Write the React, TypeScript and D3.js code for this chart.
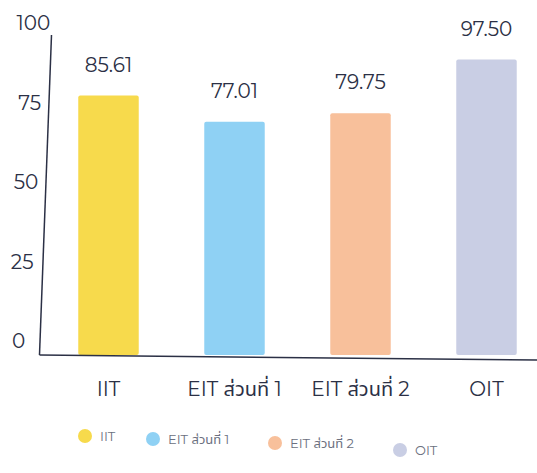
import { useRef, useEffect } from 'react';
import * as d3 from 'd3';

const categories = ['IIT', 'EIT ส่วนที่ 1', 'EIT ส่วนที่ 2', 'OIT'];
const values = [85.61, 77.01, 79.75, 97.5];
const valueLabels = ['85.61', '77.01', '79.75', '97.50'];
const colors = ['#f7da4c', '#8fd1f4', '#f8c09b', '#c9cee4'];
const yTicks = [0, 25, 50, 75, 100];

const W = 537;
const H = 473;
const FONT = "'Montserrat', 'Noto Sans', 'Noto Sans Thai', 'Open Sans', sans-serif";

export default function App() {
  const ref = useRef<SVGSVGElement>(null);

  useEffect(() => {
    if (!ref.current) return;
    const svg = d3.select(ref.current);
    svg.selectAll('*').remove();

    const margin = { left: 45.5, top: 52, bottom: 355 };
    const x = d3
      .scaleBand<string>()
      .domain(categories)
      .range([margin.left, margin.left + 504])
      .paddingInner(0.52)
      .paddingOuter(0.26);
    const y = d3.scaleLinear().domain([0, 100]).range([margin.bottom, margin.top]);

    // the photographed axis leans a little: top end sits right of the bottom end
    const axisTop = 35;
    const axisX = (py: number) => margin.left + 6 - (12 * (py - axisTop)) / (y(0) - axisTop);

    // bars
    svg
      .append('g')
      .selectAll('rect')
      .data(categories)
      .join('rect')
      .attr('x', (d) => x(d)!)
      .attr('y', (_, i) => y(values[i]))
      .attr('width', x.bandwidth())
      .attr('height', (_, i) => y(0) - y(values[i]))
      .attr('rx', 2)
      .attr('fill', (_, i) => colors[i]);

    // value labels
    svg
      .append('g')
      .selectAll('text')
      .data(categories)
      .join('text')
      .attr('x', (d) => x(d)! + x.bandwidth() / 2)
      .attr('y', (_, i) => y(values[i]) - 24)
      .attr('text-anchor', 'middle')
      .attr('font-family', FONT)
      .attr('font-size', 20)
      .attr('fill', '#2b3045')
      .text((_, i) => valueLabels[i]);

    // y axis labels (centred, following the lean)
    svg
      .append('g')
      .selectAll('text')
      .data(yTicks)
      .join('text')
      .attr('x', (d) => axisX(y(d)) - 21 + 0.035 * d)
      .attr('y', (d) => y(d) - 13 - 0.15 * d)
      .attr('dy', '0.32em')
      .attr('text-anchor', 'middle')
      .attr('font-family', FONT)
      .attr('font-size', 20)
      .attr('fill', '#2b3045')
      .text((d) => String(d));
    svg
      .append('line')
      .attr('x1', axisX(axisTop))
      .attr('x2', axisX(y(0)))
      .attr('y1', axisTop)
      .attr('y2', y(0))
      .attr('stroke', '#2b3045')
      .attr('stroke-width', 1.5);

    // x axis
    const xAxis = svg
      .append('g')
      .attr('transform', `translate(0,${y(0)})`)
      .call(d3.axisBottom(x).tickSize(0).tickPadding(27));
    xAxis.select('.domain').remove();
    xAxis
      .selectAll('text')
      .attr('font-family', FONT)
      .attr('font-size', 20)
      .attr('fill', '#2b3045');
    svg
      .append('line')
      .attr('x1', axisX(y(0)))
      .attr('x2', W)
      .attr('y1', y(0))
      .attr('y2', y(0) + 5)
      .attr('stroke', '#2b3045')
      .attr('stroke-width', 1.5);

    // legend
    const legendX = [85, 153, 275, 400];
    const legendY = [436, 439, 443, 450];
    const legend = svg
      .append('g')
      .selectAll('g')
      .data(categories)
      .join('g')
      .attr('transform', (_, i) => `translate(${legendX[i]},${legendY[i]})`);
    legend.append('circle').attr('r', 7).attr('fill', (_, i) => colors[i]);
    legend
      .append('text')
      .attr('x', 15)
      .attr('dy', '0.35em')
      .attr('font-family', FONT)
      .attr('font-size', 13)
      .attr('fill', '#6b7080')
      .text((d) => d);
  }, []);

  return (
    <svg
      ref={ref}
      width={W}
      height={H}
      style={{ position: 'absolute', left: 0, top: 0, background: '#fff' }}
    />
  );
}
